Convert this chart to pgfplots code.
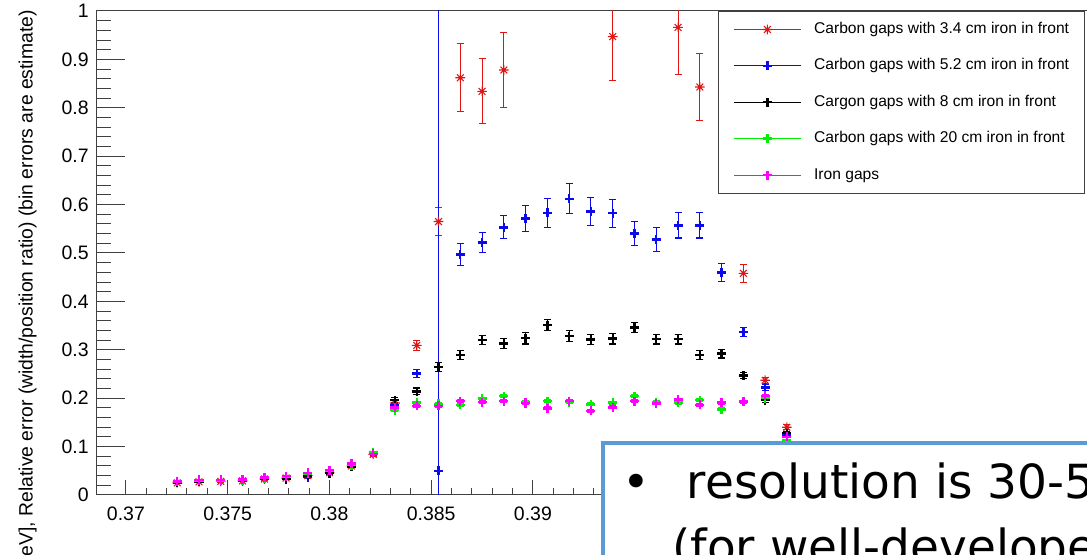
\documentclass[border=0pt]{standalone}
\usepackage{fontspec}
\setmainfont{Liberation Sans}
\newfontfamily\dejavu{DejaVu Sans}
\usepackage{pgfplots}
\pgfplotsset{compat=1.18}
\usepackage{pgfplotstable}

\definecolor{cred}{RGB}{225,20,20}
\definecolor{cblue}{RGB}{10,10,235}
\definecolor{cgreen}{RGB}{0,240,0}
\definecolor{cmag}{RGB}{255,0,255}
\definecolor{boxblue}{RGB}{91,155,213}

% eight-armed star (ROOT-style asterisk)
\pgfdeclareplotmark{rstar}{%
  \pgfpathmoveto{\pgfqpoint{-\pgfplotmarksize}{0pt}}\pgfpathlineto{\pgfqpoint{\pgfplotmarksize}{0pt}}%
  \pgfpathmoveto{\pgfqpoint{0pt}{-\pgfplotmarksize}}\pgfpathlineto{\pgfqpoint{0pt}{\pgfplotmarksize}}%
  \pgfpathmoveto{\pgfqpoint{-0.707\pgfplotmarksize}{-0.707\pgfplotmarksize}}\pgfpathlineto{\pgfqpoint{0.707\pgfplotmarksize}{0.707\pgfplotmarksize}}%
  \pgfpathmoveto{\pgfqpoint{-0.707\pgfplotmarksize}{0.707\pgfplotmarksize}}\pgfpathlineto{\pgfqpoint{0.707\pgfplotmarksize}{-0.707\pgfplotmarksize}}%
  \pgfusepathqstroke}

% red: Carbon gaps with 3.4 cm iron in front
\pgfplotstableread{
x y e
0.37252 0.025 0.002
0.37359 0.027 0.002
0.37466 0.028 0.002
0.37573 0.029 0.002
0.37680 0.033 0.002
0.37787 0.035 0.002
0.37894 0.040 0.003
0.38001 0.046 0.003
0.38108 0.060 0.004
0.38215 0.084 0.004
0.38322 0.190 0.006
0.38429 0.309 0.010
0.38536 0.565 0.029
0.38643 0.862 0.070
0.38750 0.834 0.067
0.38857 0.878 0.078
0.39392 0.947 0.091
0.39713 0.966 0.097
0.39820 0.843 0.070
0.40034 0.458 0.019
0.40141 0.237 0.006
0.40248 0.140 0.005
}\redtab

% blue: Carbon gaps with 5.2 cm iron in front
\pgfplotstableread{
x y e
0.37252 0.026 0.002
0.37359 0.028 0.002
0.37466 0.030 0.002
0.37573 0.030 0.002
0.37680 0.034 0.002
0.37787 0.036 0.002
0.37894 0.037 0.002
0.38001 0.048 0.003
0.38108 0.060 0.003
0.38215 0.086 0.004
0.38322 0.186 0.005
0.38429 0.251 0.008
0.38536 0.050 1.000
0.38643 0.497 0.022
0.38750 0.522 0.021
0.38857 0.553 0.024
0.38964 0.571 0.027
0.39071 0.583 0.030
0.39178 0.612 0.031
0.39285 0.586 0.029
0.39392 0.582 0.029
0.39499 0.540 0.025
0.39606 0.528 0.024
0.39713 0.557 0.026
0.39820 0.557 0.026
0.39927 0.460 0.019
0.40034 0.337 0.010
0.40141 0.222 0.006
0.40248 0.124 0.004
}\bluetab

% black: Cargon gaps with 8 cm iron in front
\pgfplotstableread{
x y e
0.37252 0.026 0.001
0.37359 0.028 0.001
0.37466 0.029 0.001
0.37573 0.030 0.001
0.37680 0.034 0.001
0.37787 0.033 0.001
0.37894 0.040 0.002
0.38001 0.045 0.002
0.38108 0.058 0.002
0.38215 0.086 0.003
0.38322 0.196 0.006
0.38429 0.214 0.007
0.38536 0.265 0.009
0.38643 0.289 0.009
0.38750 0.320 0.010
0.38857 0.313 0.010
0.38964 0.324 0.012
0.39071 0.351 0.012
0.39178 0.328 0.011
0.39285 0.321 0.010
0.39392 0.323 0.011
0.39499 0.346 0.011
0.39606 0.322 0.010
0.39713 0.322 0.010
0.39820 0.289 0.009
0.39927 0.292 0.009
0.40034 0.247 0.007
0.40141 0.196 0.005
0.40248 0.128 0.004
}\blacktab

% green: Carbon gaps with 20 cm iron in front
\pgfplotstableread{
x y e
0.37252 0.027 0.001
0.37359 0.029 0.001
0.37466 0.030 0.001
0.37573 0.031 0.001
0.37680 0.035 0.001
0.37787 0.038 0.001
0.37894 0.044 0.001
0.38001 0.050 0.001
0.38108 0.062 0.002
0.38215 0.088 0.002
0.38322 0.175 0.003
0.38429 0.191 0.003
0.38536 0.188 0.003
0.38643 0.186 0.003
0.38750 0.199 0.003
0.38857 0.204 0.003
0.38964 0.192 0.003
0.39071 0.194 0.003
0.39178 0.192 0.003
0.39285 0.187 0.003
0.39392 0.191 0.003
0.39499 0.204 0.003
0.39606 0.192 0.003
0.39713 0.191 0.003
0.39820 0.196 0.003
0.39927 0.177 0.003
0.40034 0.193 0.003
0.40141 0.200 0.003
0.40248 0.113 0.002
}\greentab

% magenta: Iron gaps
\pgfplotstableread{
x y e
0.37252 0.0275 0.001
0.37359 0.031 0.001
0.37466 0.031 0.001
0.37573 0.032 0.001
0.37680 0.0365 0.001
0.37787 0.039 0.001
0.37894 0.046 0.001
0.38001 0.0515 0.001
0.38108 0.065 0.002
0.38215 0.085 0.002
0.38322 0.181 0.003
0.38429 0.184 0.003
0.38536 0.184 0.003
0.38643 0.194 0.003
0.38750 0.192 0.003
0.38857 0.194 0.003
0.38964 0.190 0.003
0.39071 0.179 0.003
0.39178 0.194 0.003
0.39285 0.174 0.003
0.39392 0.181 0.003
0.39499 0.194 0.003
0.39606 0.189 0.003
0.39713 0.197 0.003
0.39820 0.186 0.003
0.39927 0.191 0.003
0.40034 0.193 0.003
0.40141 0.205 0.003
0.40248 0.120 0.002
}\magtab

\begin{document}
\begin{tikzpicture}
\useasboundingbox (-72pt,-45pt) rectangle (743.25pt,371.25pt);
\clip (-72pt,-45pt) rectangle (743.25pt,371.25pt);
\begin{axis}[
  scale only axis, width=785.6pt, height=363pt,
  xmin=0.36853, xmax=0.42, ymin=0, ymax=1,
  axis line style={black!75, line width=0.75pt},
  tick align=inside, tick pos=left,
  tick style={black!75, line width=0.75pt},
  xtick style={/pgfplots/major tick length=11.25pt, /pgfplots/minor tick length=5.6pt},
  ytick style={/pgfplots/major tick length=21.75pt, /pgfplots/minor tick length=10.9pt},
  xtick={0.37,0.375,0.38,0.385,0.39,0.395,0.4,0.405,0.41,0.415},
  xticklabels={0.37,0.375,0.38,0.385,0.39,,,,,},
  minor x tick num=4,
  ytick={0,0.1,0.2,0.3,0.4,0.5,0.6,0.7,0.8,0.9,1},
  yticklabels={0,{0.1\hspace{6.75pt}},{0.2\hspace{6.75pt}},{0.3\hspace{6.75pt}},{0.4\hspace{6.75pt}},{0.5\hspace{6.75pt}},{0.6\hspace{6.75pt}},{0.7\hspace{6.75pt}},{0.8\hspace{6.75pt}},{0.9\hspace{6.75pt}},1},
  minor y tick num=4,
  ticklabel style={font=\fontsize{14.6}{17}\selectfont, inner sep=0pt},
  xticklabel style={anchor=north, yshift=-9pt},
  yticklabel style={anchor=east, xshift=-5.25pt},
  legend cell align=left,
  legend image code/.code={\draw[mark repeat=2, mark phase=2, #1, sharp plot, line width=0.75pt] plot coordinates {(0pt,0pt) (25pt,0pt) (50pt,0pt)};},
  legend style={at={(axis description cs:0.5938,1)}, anchor=north west,
    draw=black!75, line width=0.75pt, fill=white,
    font=\fontsize{11.7}{14}\selectfont,
    inner xsep=11.25pt, inner ysep=8pt, row sep=16.3pt, column sep=9.75pt,
    nodes={inner sep=0pt, text height=8.5pt, text depth=2.5pt}},
  error bars/y dir=both, error bars/y explicit,
  error bars/error bar style={line width=0.8pt},
  error bars/error mark options={rotate=90, mark size=2.6pt, line width=0.8pt},
]
\addplot[only marks, color=cred, mark=rstar, mark size=3.6pt, mark options={line width=0.8pt}]
  table[x=x, y=y, y error=e]{\redtab};
\addlegendentry{Carbon gaps with 3.4 cm iron in front}
\addplot[only marks, color=cblue, mark=+, mark size=3.4pt, mark options={line width=1.8pt}]
  table[x=x, y=y, y error=e]{\bluetab};
\addlegendentry{Carbon gaps with 5.2 cm iron in front}
\addplot[only marks, color=black, mark=+, mark size=3.4pt, mark options={line width=1.8pt}]
  table[x=x, y=y, y error=e]{\blacktab};
\addlegendentry{Cargon gaps with 8 cm iron in front}
\addplot[only marks, color=cgreen, mark=+, mark size=3.4pt, mark options={line width=1.8pt}]
  table[x=x, y=y, y error=e]{\greentab};
\addlegendentry{Carbon gaps with 20 cm iron in front}
\addplot[only marks, color=cmag, mark=+, mark size=3.4pt, mark options={line width=1.8pt}]
  table[x=x, y=y, y error=e]{\magtab};
\addlegendentry{Iron gaps}
\end{axis}
\node[rotate=90, anchor=base east, inner sep=0pt, font=\fontsize{14.5}{17}\selectfont]
  at (-47.5pt,363.75pt) {[GeV], Relative error (width/position ratio) (bin errors are estimate)};
\draw[draw=boxblue, line width=2.5pt, fill=white] (380.25pt,39pt) rectangle (820pt,-90pt);
\node[anchor=base, inner sep=0pt, font=\dejavu\fontsize{35.25}{42}\selectfont] at (405.5pt,-2.5pt) {•};
\node[anchor=base west, inner sep=0pt, font=\dejavu\fontsize{35.25}{42}\selectfont] at (443pt,-2.5pt) {resolution is 30-50\%};
\node[anchor=base west, inner sep=0pt, font=\dejavu\fontsize{35.25}{42}\selectfont] at (432pt,-51.75pt) {(for well-developed showers)};
\end{tikzpicture}
\end{document}
